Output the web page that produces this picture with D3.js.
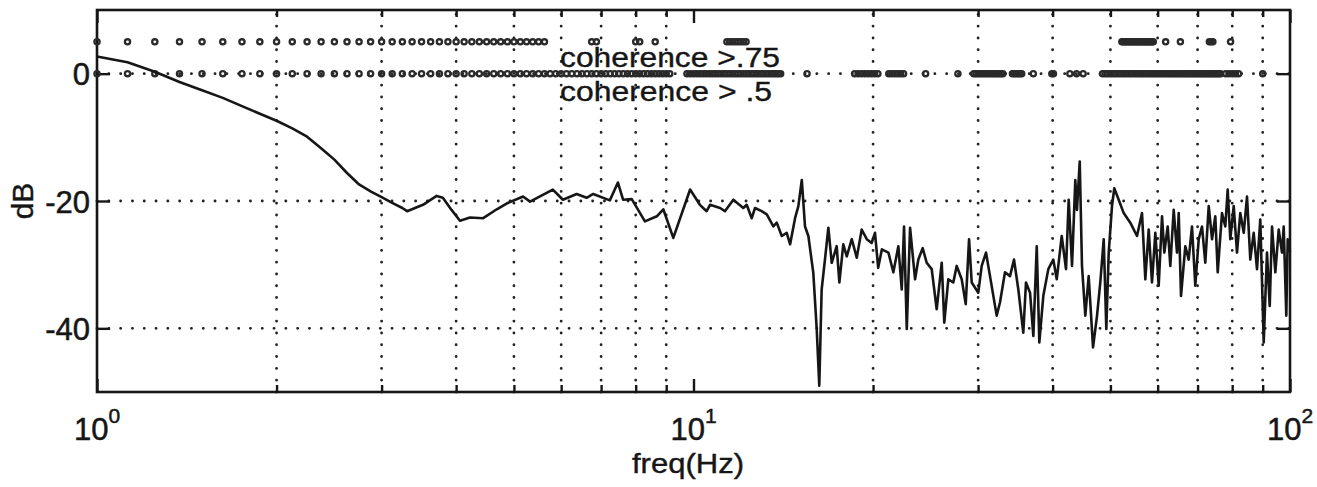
<!DOCTYPE html>
<html><head><meta charset="utf-8">
<script src="https://cdn.jsdelivr.net/npm/d3@7/dist/d3.min.js"></script>
<style>body{margin:0;background:#fff}svg{display:block}</style>
</head><body>
<svg id="chart" width="1317" height="487"></svg>
<script>
// ---- data ----
const freqHz = [
 1.0, 1.125, 1.25, 1.375, 1.5, 1.625, 1.75, 1.875, 2.0, 2.125,
 2.25, 2.375, 2.5, 2.625, 2.75, 2.875, 3.0, 3.125, 3.25, 3.31,
 3.52, 3.71, 3.80, 3.93, 4.06, 4.22, 4.44, 4.68, 4.86, 5.18,
 5.32, 5.81, 6.04, 6.37, 6.62, 6.79, 7.24, 7.47, 7.62, 7.88,
 8.29, 8.68, 8.90, 9.25, 9.87, 10.25, 10.52, 10.66, 11.08, 11.29,
 11.66, 12.12, 12.28, 12.52, 12.68, 13.01, 13.27, 13.61, 13.79, 14.06,
 14.33, 14.52, 14.80, 14.99, 15.19, 15.38, 15.58, 15.88, 16.09, 16.25,
 16.40, 16.61, 16.83, 17.05, 17.38, 17.56, 17.83, 18.07, 18.42, 18.78,
 19.14, 19.52, 19.89, 20.15, 20.40, 20.69, 21.22, 21.63, 22.05, 22.34,
 22.54, 22.78, 23.07, 23.52, 23.82, 24.22, 24.60, 25.08, 25.57, 26.07,
 26.33, 26.74, 27.26, 27.62, 28.16, 28.60, 28.97, 29.27, 30.02, 30.42,
 30.93, 31.41, 32.23, 32.65, 33.28, 33.93, 34.46, 35.04, 35.72, 36.09,
 36.66, 37.13, 37.62, 38.00, 38.59, 39.34, 40.10, 40.64, 41.43, 42.12,
 42.56, 43.11, 43.66, 43.94, 44.41, 44.80, 45.38, 45.97, 46.75, 47.48,
 48.08, 48.72, 49.21, 49.67, 50.30, 50.75, 51.62, 52.63, 53.98, 55.40,
 56.48, 57.21, 57.96, 58.70, 59.46, 60.24, 61.02, 61.56, 62.37, 63.00,
 63.83, 64.65, 65.08, 65.66, 66.76, 67.63, 68.50, 69.38, 70.30, 71.20,
 72.11, 73.07, 74.01, 74.95, 75.65, 76.91, 77.90, 78.62, 79.42, 80.47,
 81.50, 82.54, 83.64, 84.71, 85.79, 86.92, 88.04, 89.16, 90.35, 91.50,
 92.47, 93.29, 94.49, 95.74, 96.96, 97.60, 98.58, 99.12, 100.0
];
const magDb = [
 2.7, 1.8, 0.3, -1.3, -2.6, -3.8, -5.1, -6.3, -7.4, -8.6,
 -9.9, -11.7, -13.5, -15.6, -17.4, -18.5, -19.4, -20.3, -21.1, -21.6,
 -20.6, -19.2, -19.5, -21.4, -23.1, -22.6, -22.7, -21.3, -20.4, -19.3,
 -20.1, -18.2, -19.8, -18.9, -19.5, -18.9, -19.9, -17.1, -19.8, -19.7,
 -23.2, -22.4, -21.3, -25.8, -18.2, -20.6, -21.6, -20.6, -21.1, -21.6,
 -19.8, -21.1, -20.6, -22.7, -21.1, -21.6, -22.1, -24.0, -23.4, -25.5,
 -25.0, -26.8, -22.7, -20.8, -16.7, -24.0, -25.5, -31.3, -40.1, -49.0,
 -33.9, -29.2, -24.2, -29.7, -27.1, -32.8, -26.8, -28.7, -26.0, -28.9,
 -24.5, -26.0, -26.6, -25.0, -30.5, -27.6, -28.1, -31.2, -27.1, -33.9,
 -24.0, -40.1, -24.2, -32.3, -29.2, -27.4, -29.7, -30.7, -37.0, -29.7,
 -39.1, -32.3, -32.8, -30.2, -32.3, -36.2, -26.0, -32.8, -34.4, -30.2,
 -28.1, -31.8, -38.0, -35.9, -31.2, -31.8, -29.2, -33.9, -40.7, -32.8,
 -34.4, -41.2, -27.1, -42.2, -34.9, -30.7, -29.2, -32.3, -25.5, -30.7,
 -19.8, -30.2, -16.7, -21.4, -13.8, -30.2, -38.0, -31.8, -43.0, -38.0,
 -32.8, -26.0, -40.1, -28.1, -20.8, -18.0, -19.8, -21.9, -23.4, -25.5,
 -21.9, -32.3, -24.5, -32.8, -25.0, -33.3, -22.4, -28.1, -24.0, -30.2,
 -21.4, -28.1, -21.9, -34.9, -27.1, -29.2, -24.0, -33.3, -26.0, -24.0,
 -29.7, -20.8, -26.0, -22.4, -31.2, -21.9, -24.0, -18.2, -26.0, -20.8,
 -28.1, -21.9, -25.0, -19.3, -29.2, -25.0, -30.7, -22.9, -42.2, -28.1,
 -36.5, -24.0, -31.2, -24.5, -28.1, -24.0, -38.0, -26.0, -28.0
];
// frequencies (Hz) where coherence exceeds each threshold
const coh75Freq = [
 1, 1.125, 1.25, 1.375, 1.5, 1.625, 1.75, 1.875, 2, 2.125, 2.25, 2.375, 2.5, 2.625, 2.75, 2.875,
 3, 3.125, 3.25, 3.375, 3.5, 3.625, 3.75, 3.875, 4, 4.125, 4.25, 4.375, 4.5, 4.625, 4.75, 4.875,
 5, 5.125, 5.25, 5.375, 5.5, 5.625,
 6.75, 6.875, 8, 8.125, 8.625,
 11.375, 11.5, 11.625, 11.75, 11.875, 12, 12.125, 12.25,
 52.25, 52.5, 52.75, 53, 53.25, 53.5, 53.75, 54, 54.25, 54.5, 54.75, 55, 55.25, 55.5, 55.75,
 56, 56.25, 56.5, 56.75, 57, 57.25, 57.5, 57.75, 58, 58.25, 58.5, 58.75, 59,
 61.875, 65.5, 73.25, 73.75, 74.25, 79.5
];
const coh5Freq = [
 1, 1.125, 1.25, 1.375, 1.5, 1.625, 1.75, 1.875, 2, 2.125, 2.25, 2.375, 2.5, 2.625, 2.75, 2.875,
 3, 3.125, 3.25, 3.375, 3.5, 3.625, 3.75, 3.875, 4, 4.125, 4.25, 4.375, 4.5, 4.625, 4.75, 4.875,
 5, 5.125, 5.25, 5.375, 5.5, 5.625, 5.75, 5.875, 6, 6.125, 6.25, 6.375, 6.5, 6.625, 6.75, 6.875,
 7, 7.125, 7.25, 7.375, 7.5, 7.625, 7.75, 7.875, 8, 8.125, 8.25, 8.375, 8.5, 8.625, 8.75, 8.875,
 9, 9.125,
 9.75, 9.875, 10, 10.125, 10.25, 10.375, 10.5, 10.625, 10.75, 10.875, 11, 11.125, 11.25, 11.375,
 11.5, 11.625, 11.75, 11.875, 12, 12.125, 12.25, 12.375, 12.5, 12.625, 12.75, 12.875, 13, 13.125,
 13.25, 13.375, 13.5, 13.625, 13.75, 13.875, 14,
 15.5,
 18.625, 18.875, 19.125, 19.375, 19.625, 19.875, 20.125, 20.375,
 21.25, 21.5, 21.75, 22, 22.25, 22.5,
 24.5, 27.75,
 29.5, 29.75, 30, 30.25, 30.5, 30.75, 31, 31.25, 31.5, 31.75, 32, 32.25, 32.5, 32.75, 33,
 34.25, 34.5, 34.75, 35, 35.25, 35.5,
 37.125, 39.875, 40.125, 42.75, 43.875, 45,
 48.5, 49, 49.5, 50, 50.5, 51, 51.5, 52, 52.5, 53, 53.5, 54, 54.5, 55, 55.5, 56, 56.5, 57, 57.5,
 58, 58.5, 59, 59.5, 60, 60.5, 61, 61.5, 62, 62.5, 63, 63.5, 64, 64.5, 65, 65.5, 66, 66.5, 67,
 67.5, 68, 68.5, 69, 69.5, 70, 70.5, 71, 71.5, 72, 72.5, 73, 73.5, 74, 74.5, 75, 75.5, 76, 76.5,
 78, 79, 80, 81, 82, 90
];
const coh75Level = 5;   // dB row for coherence > .75 markers
const coh5Level = 0;    // dB row for coherence > .5 markers
const coh75Label = "coherence >.75";
const coh5Label = "coherence > .5";
const yTicks = [-40, -20, 0];
const xMajor = [1, 10, 100];
const xMajorExp = ["0", "1", "2"];
const xMinor = [2, 3, 4, 5, 6, 7, 8, 9, 20, 30, 40, 50, 60, 70, 80, 90];
const xTitle = "freq(Hz)";
const yTitle = "dB";

// ---- drawing ----
const W = 1317, H = 487;
const m = {left: 97, right: 1290, top: 10, bottom: 392};
const FONT = "Arial, 'Liberation Sans', Helvetica, sans-serif";
const INK = "#161616";
const svg = d3.select("#chart");
svg.append("rect").attr("width", W).attr("height", H).attr("fill", "#fff");

const x = d3.scaleLog().domain([1, 100]).range([m.left, m.right]);
const y = d3.scaleLinear().domain([-50, 10]).range([m.bottom, m.top]);

// grid (dotted)
const grid = svg.append("g").attr("stroke", "#222").attr("stroke-width", 2.8)
  .attr("stroke-linecap", "round").attr("stroke-dasharray", "0.1,11.7");
grid.selectAll("line.v").data(xMinor).join("line").attr("class", "v")
  .attr("x1", d => x(d)).attr("x2", d => x(d)).attr("y1", m.bottom).attr("y2", m.top);
grid.selectAll("line.h").data(yTicks).join("line").attr("class", "h")
  .attr("x1", m.left).attr("x2", m.right).attr("y1", d => y(d)).attr("y2", d => y(d));

// axes with inward ticks
function styleAxis(g) {
  g.select(".domain").remove();
  g.selectAll(".tick line").attr("stroke", INK).attr("stroke-width", 2.4);
  g.selectAll(".tick text").attr("fill", INK);
}
svg.append("g").attr("transform", `translate(0,${m.bottom})`)
  .call(d3.axisBottom(x).tickValues(xMajor).tickSize(-13).tickFormat(() => "")).call(styleAxis);
svg.append("g").attr("transform", `translate(0,${m.bottom})`)
  .call(d3.axisBottom(x).tickValues(xMinor).tickSize(-7).tickFormat(() => "")).call(styleAxis);
svg.append("g").attr("transform", `translate(0,${m.top})`)
  .call(d3.axisTop(x).tickValues(xMajor).tickSize(-13).tickFormat(() => "")).call(styleAxis);
svg.append("g").attr("transform", `translate(0,${m.top})`)
  .call(d3.axisTop(x).tickValues(xMinor).tickSize(-7).tickFormat(() => "")).call(styleAxis);
const yAxisL = svg.append("g").attr("transform", `translate(${m.left},0)`)
  .call(d3.axisLeft(y).tickValues(yTicks).tickSize(-13).tickPadding(7).tickFormat(d => String(d)))
  .call(styleAxis);
yAxisL.selectAll(".tick text").attr("font-family", FONT).attr("font-size", 31).attr("dy", "0.36em")
  .attr("stroke", INK).attr("stroke-width", 0.5);
svg.append("g").attr("transform", `translate(${m.right},0)`)
  .call(d3.axisRight(y).tickValues(yTicks).tickSize(-13).tickFormat(() => "")).call(styleAxis);

// x tick labels 10^n
const xl = svg.append("g").attr("font-family", FONT).attr("fill", INK)
  .attr("stroke", INK).attr("stroke-width", 0.5);
xMajor.forEach((v, i) => {
  const t = xl.append("text").attr("x", x(v)).attr("y", 440)
    .attr("text-anchor", "middle").attr("font-size", 31);
  t.append("tspan").text("10");
  t.append("tspan").attr("dy", -17).attr("font-size", 21).text(xMajorExp[i]);
});

// frame
svg.append("rect").attr("x", m.left).attr("y", m.top)
  .attr("width", m.right - m.left).attr("height", m.bottom - m.top)
  .attr("fill", "none").attr("stroke", INK).attr("stroke-width", 2.6);

// coherence markers
const mk = svg.append("g").attr("fill", "none").attr("stroke", "#2a2a2a").attr("stroke-width", 2.3);
mk.selectAll("circle.c75").data(coh75Freq).join("circle").attr("class", "c75")
  .attr("cx", d => x(d)).attr("cy", y(coh75Level)).attr("r", 2.6);
mk.selectAll("circle.c5").data(coh5Freq).join("circle").attr("class", "c5")
  .attr("cx", d => x(d)).attr("cy", y(coh5Level)).attr("r", 2.6);

// spectrum line
const pts = freqHz.map((f, i) => [f, magDb[i]]);
svg.append("path").datum(pts)
  .attr("fill", "none").attr("stroke", "#161616").attr("stroke-width", 2.6)
  .attr("stroke-linejoin", "round")
  .attr("d", d3.line().x(d => x(d[0])).y(d => y(d[1])));

// annotations
const ann = svg.append("g").attr("font-family", FONT).attr("font-size", 28).attr("fill", INK)
  .attr("stroke", INK).attr("stroke-width", 0.4);
ann.append("text").attr("x", 560).attr("y", 67)
  .attr("textLength", 220).attr("lengthAdjust", "spacingAndGlyphs").text(coh75Label);
ann.append("text").attr("x", 560).attr("y", 101)
  .attr("textLength", 212).attr("lengthAdjust", "spacingAndGlyphs").text(coh5Label);

// axis titles
svg.append("text").attr("x", 688).attr("y", 473).attr("text-anchor", "middle")
  .attr("font-family", FONT).attr("font-size", 27).attr("fill", INK)
  .attr("stroke", INK).attr("stroke-width", 0.4)
  .attr("textLength", 112).attr("lengthAdjust", "spacingAndGlyphs").text(xTitle);
svg.append("text").attr("transform", "translate(33,201) rotate(-90)").attr("text-anchor", "middle")
  .attr("font-family", FONT).attr("font-size", 30).attr("fill", INK)
  .attr("stroke", INK).attr("stroke-width", 0.4).text(yTitle);
</script>
</body></html>
